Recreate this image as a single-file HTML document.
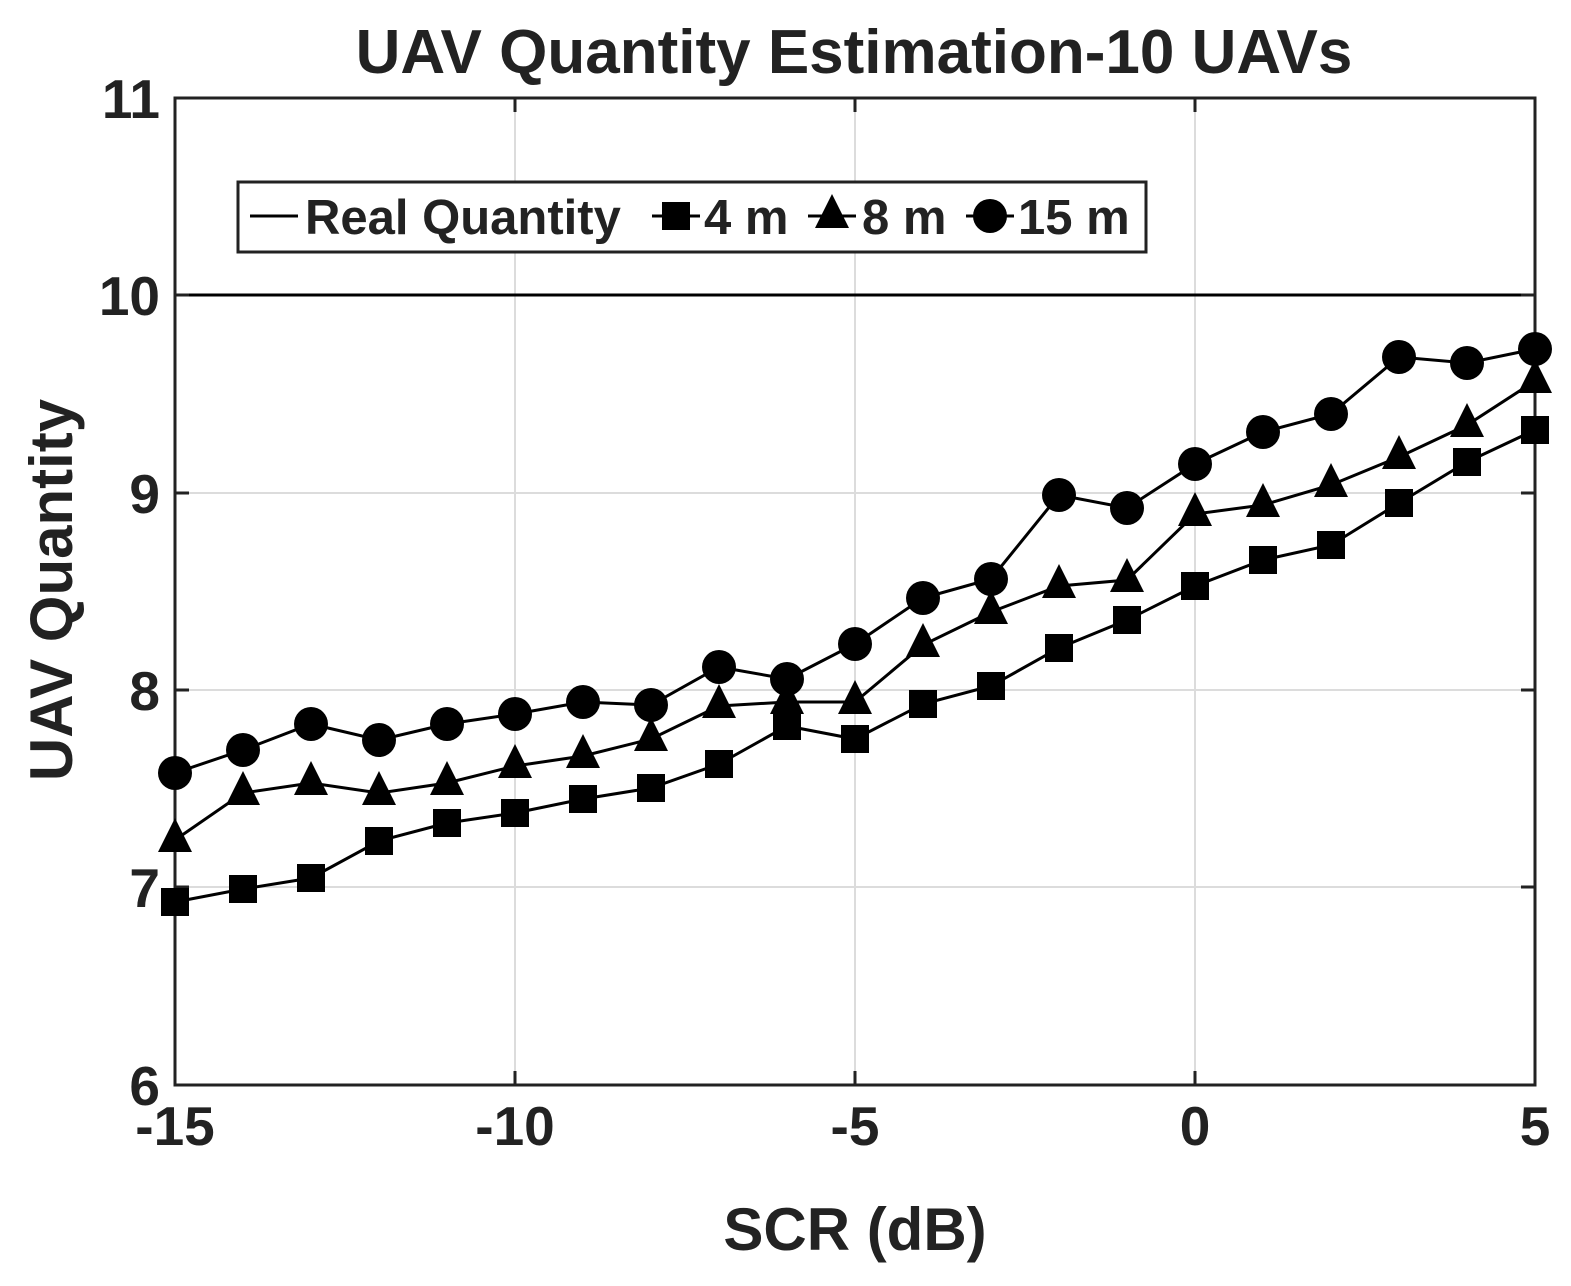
<!DOCTYPE html><html><head><meta charset="utf-8"><style>body{margin:0;background:#fff}svg{display:block}text{font-family:"Liberation Sans",sans-serif;font-weight:bold;fill:#222}</style></head><body>
<svg width="1571" height="1286" xmlns="http://www.w3.org/2000/svg">
<rect width="1571" height="1286" fill="#fff"/>
<g stroke="#dcdcdc" stroke-width="2">
<line x1="515" y1="98" x2="515" y2="1085"/><line x1="855" y1="98" x2="855" y2="1085"/><line x1="1195" y1="98" x2="1195" y2="1085"/>
<line x1="175" y1="493" x2="1535" y2="493"/><line x1="175" y1="690" x2="1535" y2="690"/><line x1="175" y1="887" x2="1535" y2="887"/>
</g>
<line x1="175" y1="295" x2="1535" y2="295" stroke="#000" stroke-width="3"/>
<rect x="175" y="98" width="1360" height="987" fill="none" stroke="#222" stroke-width="3"/>
<g stroke="#222" stroke-width="3">
<line x1="515" y1="1085" x2="515" y2="1071"/><line x1="855" y1="1085" x2="855" y2="1071"/><line x1="1195" y1="1085" x2="1195" y2="1071"/>
<line x1="515" y1="98" x2="515" y2="112"/><line x1="855" y1="98" x2="855" y2="112"/><line x1="1195" y1="98" x2="1195" y2="112"/>
<line x1="175" y1="295" x2="189" y2="295"/><line x1="175" y1="493" x2="189" y2="493"/><line x1="175" y1="690" x2="189" y2="690"/><line x1="175" y1="887" x2="189" y2="887"/>
<line x1="1535" y1="295" x2="1521" y2="295"/><line x1="1535" y1="493" x2="1521" y2="493"/><line x1="1535" y1="690" x2="1521" y2="690"/><line x1="1535" y1="887" x2="1521" y2="887"/>
</g>
<text x="854" y="73" font-size="62" text-anchor="middle">UAV Quantity Estimation-10 UAVs</text>
<g font-size="55" text-anchor="end">
<text x="160" y="118">11</text><text x="160" y="315">10</text><text x="160" y="513">9</text><text x="160" y="710">8</text><text x="160" y="907">7</text><text x="160" y="1105">6</text></g>
<g font-size="55" text-anchor="middle">
<text x="175" y="1145">-15</text><text x="515" y="1145">-10</text><text x="855" y="1145">-5</text><text x="1195" y="1145">0</text><text x="1535" y="1145">5</text></g>
<text x="855" y="1250" font-size="60" text-anchor="middle">SCR (dB)</text>
<text transform="translate(72,590) rotate(-90)" font-size="60" text-anchor="middle">UAV Quantity</text>
<g fill="none" stroke="#000" stroke-width="3">
<polyline points="175,902 243,889 311,878 379,841 447,823 515,813 583,799 651,788 719,764 787,726 855,739 923,704 991,686 1059,648 1127,620 1195,586 1263,560 1331,545 1399,503 1467,462 1535,430"/>
<polyline points="175,840 243,793 311,783 379,793 447,783 515,766 583,756 651,739 719,706 787,702 855,702 923,645 991,612 1059,586 1127,580 1195,514 1263,505 1331,485 1399,457 1467,425 1535,381"/>
<polyline points="175,773 243,750 311,724 379,740 447,724 515,714 583,702 651,705 719,667 787,679 855,644 923,598 991,579 1059,495 1127,508 1195,464 1263,432 1331,414 1399,357 1467,363 1535,349"/>
</g>
<g fill="#000">
<rect x="161" y="888" width="28" height="28"/><rect x="229" y="875" width="28" height="28"/><rect x="297" y="864" width="28" height="28"/><rect x="365" y="827" width="28" height="28"/><rect x="433" y="809" width="28" height="28"/><rect x="501" y="799" width="28" height="28"/><rect x="569" y="785" width="28" height="28"/><rect x="637" y="774" width="28" height="28"/><rect x="705" y="750" width="28" height="28"/><rect x="773" y="712" width="28" height="28"/><rect x="841" y="725" width="28" height="28"/><rect x="909" y="690" width="28" height="28"/><rect x="977" y="672" width="28" height="28"/><rect x="1045" y="634" width="28" height="28"/><rect x="1113" y="606" width="28" height="28"/><rect x="1181" y="572" width="28" height="28"/><rect x="1249" y="546" width="28" height="28"/><rect x="1317" y="531" width="28" height="28"/><rect x="1385" y="489" width="28" height="28"/><rect x="1453" y="448" width="28" height="28"/><rect x="1521" y="416" width="28" height="28"/>
<polygon points="175,818 158,852 192,852"/><polygon points="243,771 226,805 260,805"/><polygon points="311,761 294,795 328,795"/><polygon points="379,771 362,805 396,805"/><polygon points="447,761 430,795 464,795"/><polygon points="515,744 498,778 532,778"/><polygon points="583,734 566,768 600,768"/><polygon points="651,717 634,751 668,751"/><polygon points="719,684 702,718 736,718"/><polygon points="787,680 770,714 804,714"/><polygon points="855,680 838,714 872,714"/><polygon points="923,623 906,657 940,657"/><polygon points="991,590 974,624 1008,624"/><polygon points="1059,564 1042,598 1076,598"/><polygon points="1127,558 1110,592 1144,592"/><polygon points="1195,492 1178,526 1212,526"/><polygon points="1263,483 1246,517 1280,517"/><polygon points="1331,463 1314,497 1348,497"/><polygon points="1399,435 1382,469 1416,469"/><polygon points="1467,403 1450,437 1484,437"/><polygon points="1535,359 1518,393 1552,393"/>
<circle cx="175" cy="773" r="17"/><circle cx="243" cy="750" r="17"/><circle cx="311" cy="724" r="17"/><circle cx="379" cy="740" r="17"/><circle cx="447" cy="724" r="17"/><circle cx="515" cy="714" r="17"/><circle cx="583" cy="702" r="17"/><circle cx="651" cy="705" r="17"/><circle cx="719" cy="667" r="17"/><circle cx="787" cy="679" r="17"/><circle cx="855" cy="644" r="17"/><circle cx="923" cy="598" r="17"/><circle cx="991" cy="579" r="17"/><circle cx="1059" cy="495" r="17"/><circle cx="1127" cy="508" r="17"/><circle cx="1195" cy="464" r="17"/><circle cx="1263" cy="432" r="17"/><circle cx="1331" cy="414" r="17"/><circle cx="1399" cy="357" r="17"/><circle cx="1467" cy="363" r="17"/><circle cx="1535" cy="349" r="17"/>
</g>
<rect x="238" y="182" width="908" height="70" fill="#fff" stroke="#222" stroke-width="3"/>
<line x1="250" y1="216" x2="298" y2="216" stroke="#000" stroke-width="3"/>
<text x="305" y="234" font-size="49" fill="#000">Real Quantity</text>
<line x1="652" y1="216" x2="700" y2="216" stroke="#000" stroke-width="3"/><rect x="662" y="202" width="28" height="28" fill="#000"/>
<text x="704" y="234" font-size="49">4 m</text>
<line x1="808" y1="216" x2="856" y2="216" stroke="#000" stroke-width="3"/><polygon points="832,194 815,228 849,228" fill="#000"/>
<text x="862" y="234" font-size="49">8 m</text>
<line x1="966" y1="216" x2="1014" y2="216" stroke="#000" stroke-width="3"/><circle cx="990" cy="216" r="17" fill="#000"/>
<text x="1018" y="234" font-size="49">15 m</text>
</svg></body></html>
